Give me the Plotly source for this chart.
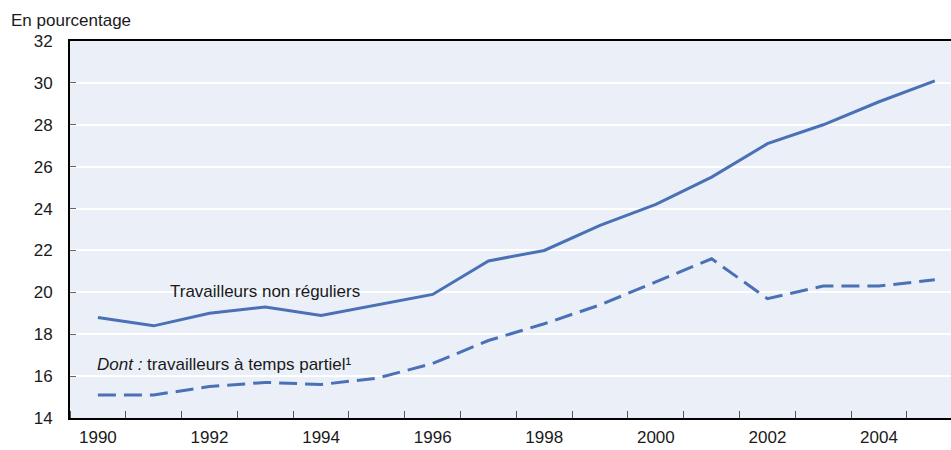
import plotly.graph_objects as go

years = list(range(1990, 2006))
non_reguliers = [18.8, 18.4, 19.0, 19.3, 18.9, 19.4, 19.9, 21.5, 22.0, 23.2, 24.2, 25.5, 27.1, 28.0, 29.1, 30.1]
temps_partiel = [15.1, 15.1, 15.5, 15.7, 15.6, 15.9, 16.6, 17.7, 18.5, 19.4, 20.5, 21.6, 19.7, 20.3, 20.3, 20.6]
x_tick_labels = [str(y) for y in range(1990, 2006, 2)]
y_ticks = list(range(14, 33, 2))

FONT = "Liberation Sans, Arial, sans-serif"
LINE = "#4a70b6"

fig = go.Figure()
fig.add_trace(go.Scatter(x=years, y=non_reguliers, mode="lines",
                         line=dict(color=LINE, width=3), showlegend=False))
fig.add_trace(go.Scatter(x=years, y=temps_partiel, mode="lines",
                         line=dict(color=LINE, width=3, dash="18px,8px"), showlegend=False))

fig.update_layout(
    width=951, height=450,
    margin=dict(l=70, r=0, t=41, b=32),
    paper_bgcolor="white",
    plot_bgcolor="#ebf0f8",
    font=dict(family=FONT, size=17, color="#1a1a1a"),
    xaxis=dict(
        range=[1989.5, 2005.29],
        tickvals=[int(t) for t in x_tick_labels],
        ticktext=x_tick_labels,
        ticks="",
        showgrid=False,
        zeroline=False,
        automargin=False,
        showline=True, linecolor="black", linewidth=2, mirror=True,
        minor=dict(tick0=1990.5, dtick=1, ticks="inside", ticklen=7,
                   tickcolor="#555", tickwidth=1, showgrid=False),
        tickfont=dict(size=17),
        ticklabelstandoff=3,
    ),
    yaxis=dict(
        range=[14, 32],
        tickvals=y_ticks,
        ticks="inside", ticklen=6, tickcolor="#666", tickwidth=1,
        showgrid=True, gridcolor="white", gridwidth=2,
        zeroline=False,
        automargin=False,
        showline=True, linecolor="black", linewidth=2,
        tickfont=dict(size=17),
        ticklabelstandoff=12,
    ),
    annotations=[
        dict(text="En pourcentage", xref="paper", yref="paper",
             x=-61/881, y=1 + 20/377, xanchor="left", yanchor="middle",
             showarrow=False, font=dict(size=17)),
        dict(text="Travailleurs non réguliers", xref="x", yref="y",
             x=1991.25, y=20.05, xanchor="left", yanchor="middle",
             showarrow=False, font=dict(size=17)),
        dict(text="<i>Dont :</i> travailleurs à temps partiel¹", xref="x", yref="y",
             x=1989.95, y=16.56, xanchor="left", yanchor="middle",
             showarrow=False, font=dict(size=17)),
    ],
)

fig.write_html("out.html", config={"displayModeBar": False},
               post_script="document.body.style.margin='0';document.body.style.overflow='hidden';")
